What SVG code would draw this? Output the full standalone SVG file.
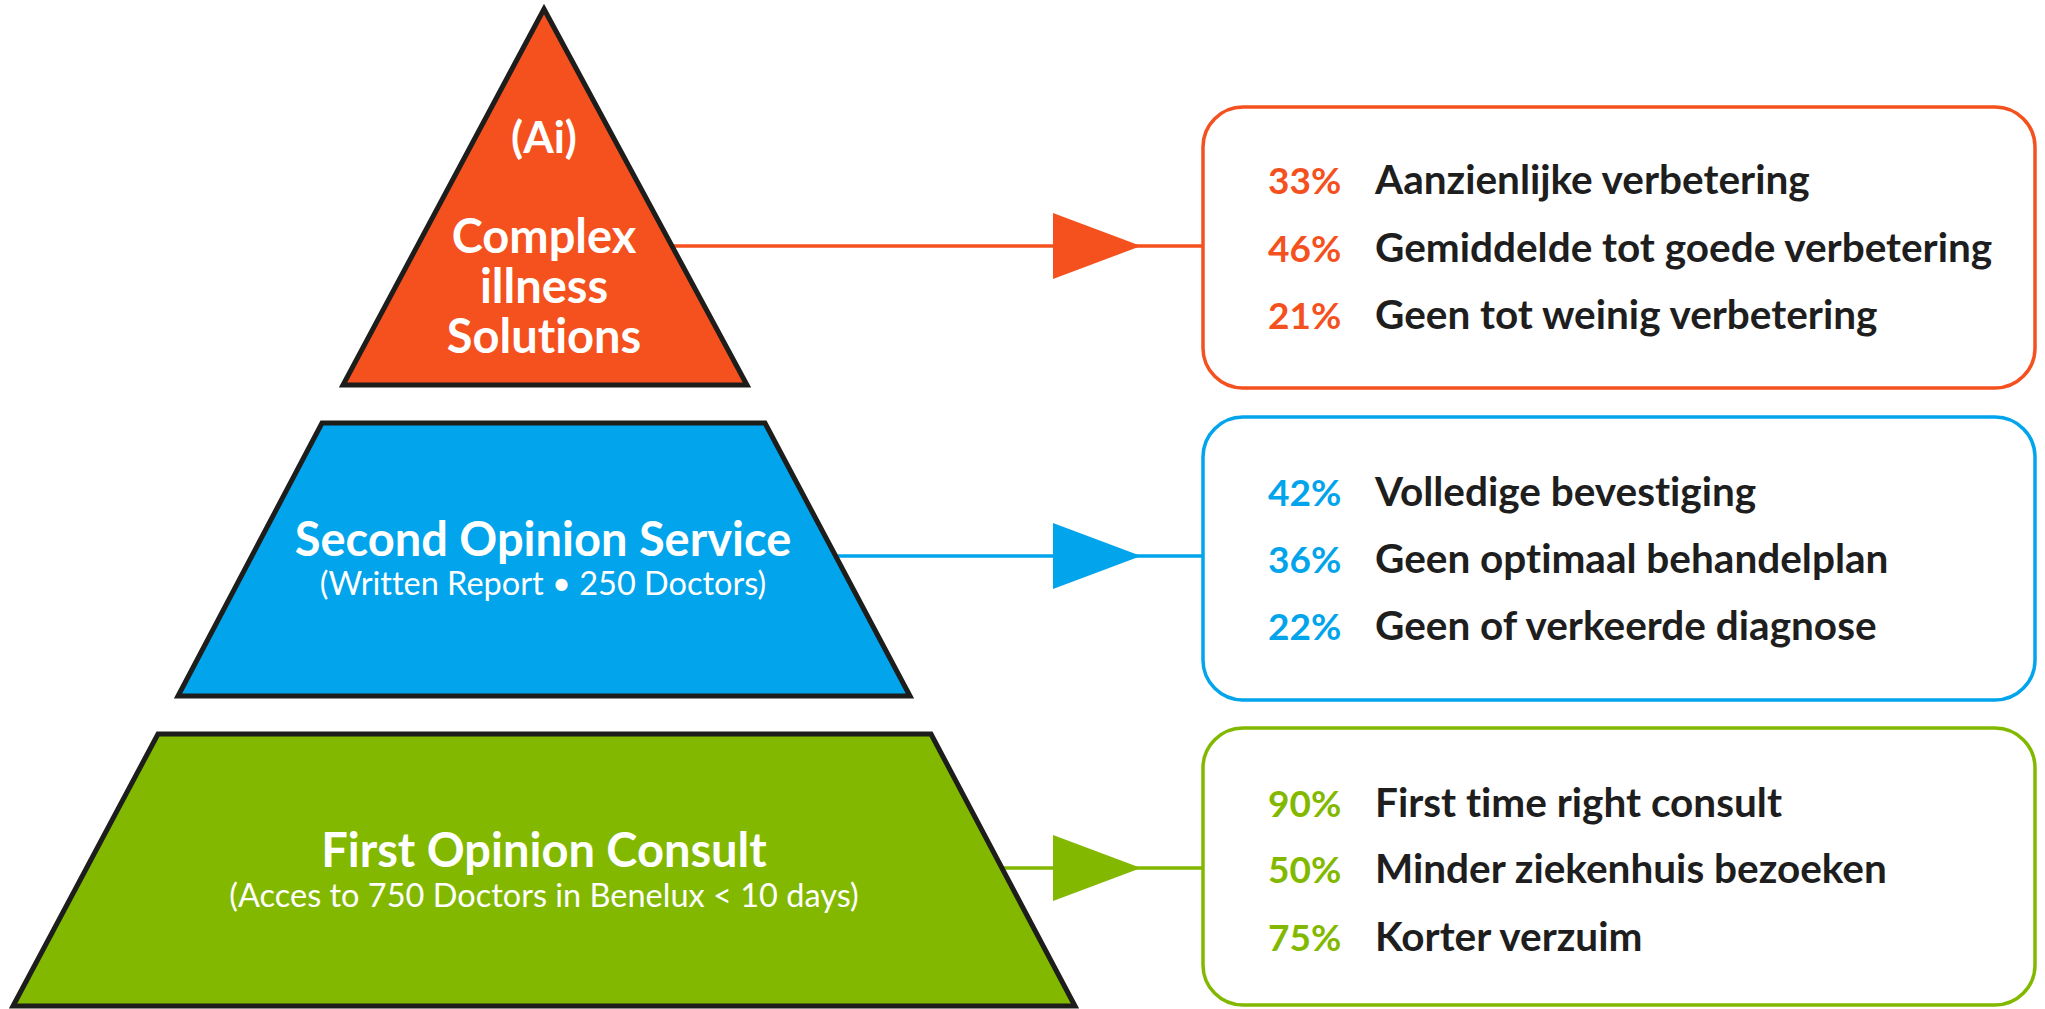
<svg xmlns="http://www.w3.org/2000/svg" width="2045" height="1009" viewBox="0 0 2045 1009">
<style>
text{font-variant-ligatures:none;font-family:Lato,"Liberation Sans",sans-serif}
.shape{stroke:#1d1d1b;stroke-width:5;stroke-linejoin:miter}
.title{font-weight:700;fill:#fff;text-anchor:middle}
.sub{font-weight:400;fill:#fff;text-anchor:middle;font-size:32.5px}
.box{fill:#fff;stroke-width:3.5}
.pct{font-weight:700;font-size:37px}
.lbl{font-weight:700;font-size:40.5px;fill:#1e1e1e}
.conn{fill:none;stroke-width:3.5}
.o{fill:#f4511e}.b{fill:#02a4eb}.g{fill:#82b900}
</style>
<defs>
<marker id="ao" markerUnits="userSpaceOnUse" markerWidth="90" markerHeight="70" refX="88" refY="33" orient="auto"><polygon points="0,0 88,33 0,66" fill="#f4511e"/></marker>
<marker id="ab" markerUnits="userSpaceOnUse" markerWidth="90" markerHeight="70" refX="88" refY="33" orient="auto"><polygon points="0,0 88,33 0,66" fill="#02a4eb"/></marker>
<marker id="ag" markerUnits="userSpaceOnUse" markerWidth="90" markerHeight="70" refX="88" refY="33" orient="auto"><polygon points="0,0 88,33 0,66" fill="#82b900"/></marker>
</defs>
<rect width="2045" height="1009" fill="#fff"/>
<g id="connectors">
<path class="conn" stroke="#f4511e" d="M 600 246 L 1141 246 L 1203 246" marker-mid="url(#ao)"/>
<path class="conn" stroke="#02a4eb" d="M 800 556 L 1141 556 L 1203 556" marker-mid="url(#ab)"/>
<path class="conn" stroke="#82b900" d="M 990 868 L 1141 868 L 1203 868" marker-mid="url(#ag)"/>
</g>
<g id="tier-top">
<polygon class="shape" fill="#f4511e" points="544,9 747,385 343,385"/>
<text class="title" x="544" y="153" font-size="44">(Ai)</text>
<text class="title" x="544" y="253" font-size="47">Complex</text>
<text class="title" x="544" y="303" font-size="47">illness</text>
<text class="title" x="544" y="353" font-size="47">Solutions</text>
</g>
<g id="tier-middle">
<polygon class="shape" fill="#02a4eb" points="322,423 765,423 910,696 178,696"/>
<text class="title" x="543" y="556" font-size="47">Second Opinion Service</text>
<text class="sub" x="543" y="595">(Written Report • 250 Doctors)</text>
</g>
<g id="tier-bottom">
<polygon class="shape" fill="#82b900" points="158,734 931,734 1075,1006 13,1006"/>
<text class="title" x="544" y="867" font-size="47">First Opinion Consult</text>
<text class="sub" x="544" y="907">(Acces to 750 Doctors in Benelux &lt; 10 days)</text>
</g>
<g id="results-top">
<rect class="box" stroke="#f4511e" x="1203" y="107" width="832" height="281" rx="40"/>
<text class="pct o" x="1268" y="194">33%</text><text class="lbl" x="1375" y="194">Aanzienlijke verbetering</text>
<text class="pct o" x="1268" y="262">46%</text><text class="lbl" x="1375" y="262">Gemiddelde tot goede verbetering</text>
<text class="pct o" x="1268" y="329">21%</text><text class="lbl" x="1375" y="329">Geen tot weinig verbetering</text>
</g>
<g id="results-middle">
<rect class="box" stroke="#02a4eb" x="1203" y="417" width="832" height="283" rx="40"/>
<text class="pct b" x="1268" y="506">42%</text><text class="lbl" x="1375" y="506">Volledige bevestiging</text>
<text class="pct b" x="1268" y="573">36%</text><text class="lbl" x="1375" y="573">Geen optimaal behandelplan</text>
<text class="pct b" x="1268" y="640">22%</text><text class="lbl" x="1375" y="640">Geen of verkeerde diagnose</text>
</g>
<g id="results-bottom">
<rect class="box" stroke="#82b900" x="1203" y="728" width="832" height="277" rx="40"/>
<text class="pct g" x="1268" y="817">90%</text><text class="lbl" x="1375" y="817">First time right consult</text>
<text class="pct g" x="1268" y="883">50%</text><text class="lbl" x="1375" y="883">Minder ziekenhuis bezoeken</text>
<text class="pct g" x="1268" y="951">75%</text><text class="lbl" x="1375" y="951">Korter verzuim</text>
</g>
</svg>
